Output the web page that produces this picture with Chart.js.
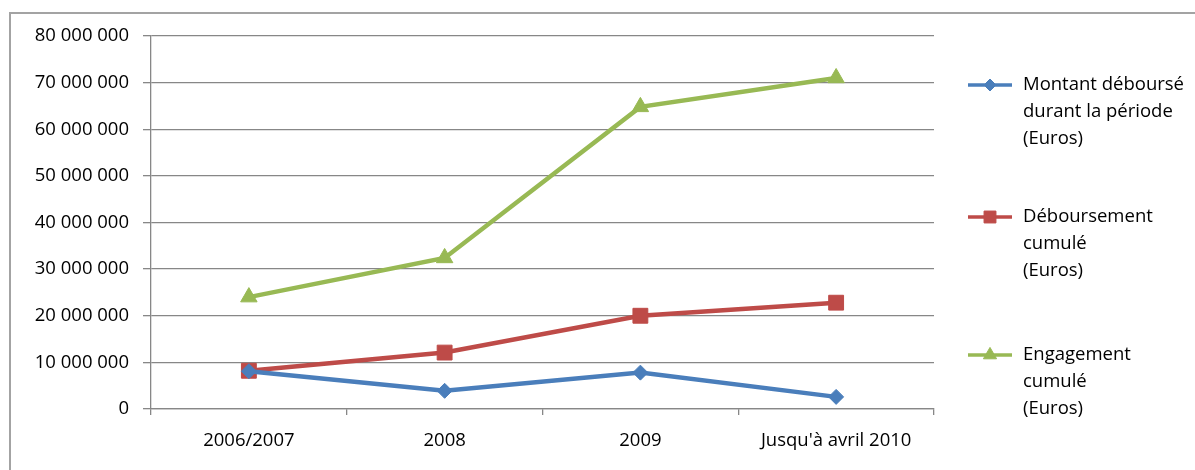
<!DOCTYPE html>
<html>
<head>
<meta charset="utf-8">
<script src="https://cdn.jsdelivr.net/npm/chart.js@4.4.0/dist/chart.umd.min.js"></script>
<style>
  html, body { margin: 0; padding: 0; background: #fff; }
  #wrap { width: 1195px; height: 470px; }
</style>
</head>
<body>
<div id="wrap"><canvas id="chart" width="1195" height="470"></canvas></div>
<script>
// values
var categories = ['2006/2007', '2008', '2009', "Jusqu'à avril 2010"];
var montantPeriode = [8100000, 3900000, 7800000, 2600000];
var deboursementCumule = [8200000, 12100000, 20000000, 22800000];
var engagementCumule = [24000000, 32400000, 64800000, 71000000];

var legendLines = [
  ['Montant déboursé', 'durant la période', '(Euros)'],
  ['Déboursement', 'cumulé', '(Euros)'],
  ['Engagement', 'cumulé', '(Euros)']
];
var yMin = 0, yMax = 80000000, yStep = 10000000;

var FONT = "'Open Sans', sans-serif";
var FSIZE = 18.5;
var GRID = '#878787';

function fmt(v) {
  return String(v).replace(/\B(?=(\d{3})+(?!\d))/g, ' ');
}

// grey frame of the chart area (top and left edges visible)
var framePlugin = {
  id: 'frame',
  beforeDraw: function(chart) {
    var ctx = chart.ctx;
    ctx.save();
    ctx.strokeStyle = '#a3a3a3';
    ctx.lineWidth = 2;
    ctx.beginPath();
    ctx.moveTo(10, 470);
    ctx.lineTo(10, 13);
    ctx.lineTo(1195, 13);
    ctx.stroke();
    ctx.restore();
  }
};

// legend on the right with wrapped labels
var legendPlugin = {
  id: 'sideLegend',
  afterDraw: function(chart) {
    var ctx = chart.ctx;
    var tops = [85, 217, 355];
    ctx.save();
    ctx.font = FSIZE + 'px ' + FONT;
    ctx.textBaseline = 'middle';
    chart.data.datasets.forEach(function(ds, i) {
      var y = tops[i];
      ctx.strokeStyle = ds.borderColor;
      ctx.lineWidth = 3.5;
      ctx.beginPath();
      ctx.moveTo(968, y);
      ctx.lineTo(1012, y);
      ctx.stroke();
      ctx.fillStyle = ds.pointBackgroundColor;
      ctx.strokeStyle = ds.pointBorderColor;
      ctx.lineWidth = 1;
      Chart.helpers.drawPoint(ctx, {
        pointStyle: ds.pointStyle,
        radius: ds.pointRadius * 0.8,
        borderWidth: 1,
        rotation: 0
      }, 990, y);
      ctx.fillStyle = '#000';
      legendLines[i].forEach(function(t, k) {
        ctx.fillText(t, 1023, y + k * 27);
      });
    });
    ctx.restore();
  }
};

new Chart(document.getElementById('chart'), {
  type: 'line',
  data: {
    labels: categories,
    datasets: [
      {
        label: legendLines[0].join(' '),
        data: montantPeriode,
        borderColor: '#4a7ebb',
        backgroundColor: '#4a7ebb',
        pointBackgroundColor: '#4a7ebb',
        pointBorderColor: '#4a7ebb',
        borderWidth: 4.5,
        pointStyle: 'rectRot',
        pointRadius: 7.5,
        pointBorderWidth: 1,
        tension: 0
      },
      {
        label: legendLines[1].join(' '),
        data: deboursementCumule,
        borderColor: '#be4b48',
        backgroundColor: '#be4b48',
        pointBackgroundColor: '#be4b48',
        pointBorderColor: '#be4b48',
        borderWidth: 4.5,
        pointStyle: 'rect',
        pointRadius: 10.5,
        pointBorderWidth: 1,
        tension: 0
      },
      {
        label: legendLines[2].join(' '),
        data: engagementCumule,
        borderColor: '#98b954',
        backgroundColor: '#98b954',
        pointBackgroundColor: '#98b954',
        pointBorderColor: '#98b954',
        borderWidth: 4.5,
        pointStyle: 'triangle',
        pointRadius: 9.5,
        pointBorderWidth: 1,
        tension: 0
      }
    ]
  },
  options: {
    responsive: false,
    animation: false,
    layout: { padding: { left: 10, right: 261, top: 36, bottom: 0 } },
    plugins: {
      legend: { display: false },
      tooltip: { enabled: false }
    },
    scales: {
      x: {
        offset: true,
        grid: { display: true, drawOnChartArea: false, offset: true, tickLength: 6, color: GRID, lineWidth: 1.3 },
        border: { color: GRID, width: 1.3 },
        ticks: { color: '#000', font: { family: FONT, size: FSIZE }, padding: 15, maxRotation: 0 },
        afterFit: function(s) { s.height = 61; }
      },
      y: {
        min: yMin,
        max: yMax,
        grid: { color: GRID, lineWidth: 1.3, tickLength: 8 },
        border: { color: GRID, width: 1.3 },
        ticks: {
          stepSize: yStep,
          color: '#000',
          font: { family: FONT, size: FSIZE },
          padding: 14,
          callback: function(v) { return fmt(v); }
        },
        afterFit: function(s) { s.width = 141; }
      }
    }
  },
  plugins: [framePlugin, legendPlugin]
});
</script>
</body>
</html>
